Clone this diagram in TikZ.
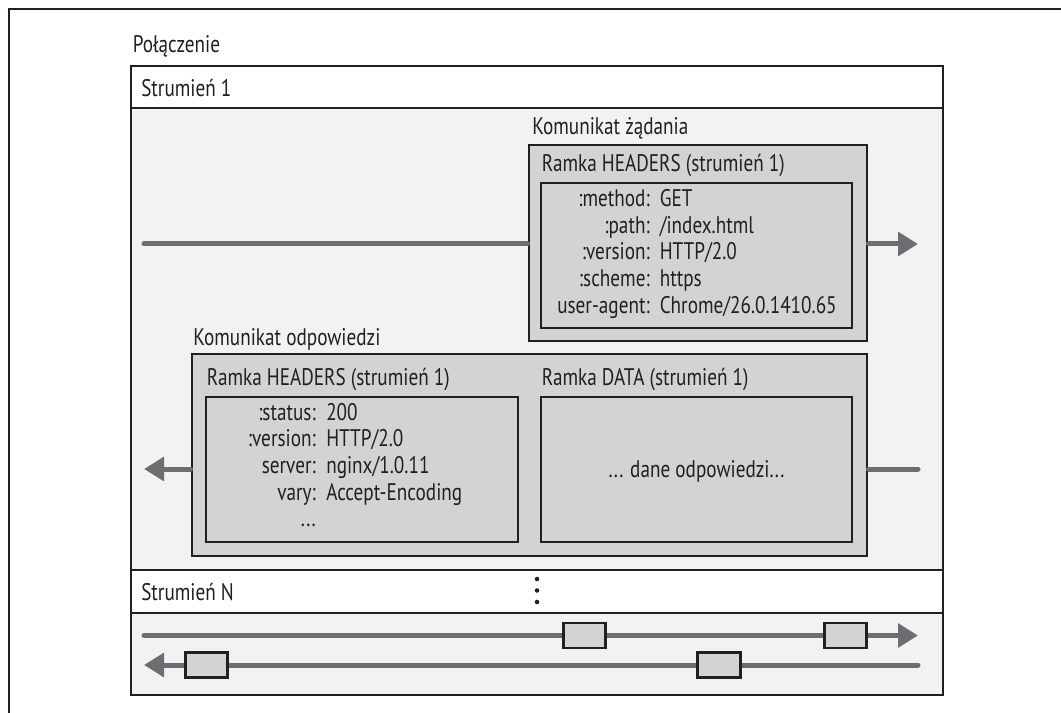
\documentclass[tikz,border=0pt]{standalone}
\usepackage{fontspec}
\setmainfont{PT Sans}[FakeStretch=0.8]
\usetikzlibrary{arrows.meta,fit,positioning}
\definecolor{framefill}{HTML}{D1D3D4}
\definecolor{lanefill}{HTML}{F1F2F2}
\definecolor{flowgray}{HTML}{6D6E71}
\definecolor{inkblack}{HTML}{231F20}

\begin{document}
\begin{tikzpicture}[
  x=0.75pt, y=-0.75pt,
  txt/.style={font=\fontsize{18}{20}\selectfont, text=inkblack, inner sep=0pt},
  lbl/.style={txt, anchor=base west},
  band/.style={draw=inkblack, line width=1.5pt, fill=white, inner sep=0pt},
  lane/.style={draw=inkblack, line width=1.5pt, fill=lanefill, inner sep=0pt},
  framebox/.style={draw=inkblack, line width=2.2pt, fill=framefill, inner sep=0pt},
  packet/.style={draw=inkblack, line width=2.2pt, fill=framefill, minimum width=32pt, minimum height=18.75pt, inner sep=0pt},
  flow/.style={draw=flowgray, line width=3.75pt, line cap=round},
  tip/.style={-{Triangle[length=15pt,width=17.5pt]}},
  pit/.style={{Triangle[length=15pt,width=17.5pt]}-}
]
\useasboundingbox (0,0) rectangle (1061,713);

% Connection frame
\draw[inkblack, line width=1.5pt] (1061,9) -- (8.5,9) -- (8.5,713);
\node[lbl] (conn) at (132.5,53) {Połączenie};

% Stream 1
\node[band, fit={(131,66) (943,108)}] (s1head) {};
\node[lane, fit={(131,108) (943,569.5)}] (s1body) {};
\node[lbl] (s1name) at (141,97) {Strumień 1};

% Stream N
\node[band, fit={(131,569.5) (943,612.5)}] (sNhead) {};
\node[lane, fit={(131,612.5) (943,695)}] (sNbody) {};
\node[lbl] (sNname) at (141,600) {Strumień N};
\foreach \yy in {579,590.5,602}
  \fill[inkblack] (537,\yy) circle[radius=1.7pt];

% Request message
\coordinate (reqin) at (144,244);
\coordinate (reqout) at (918,244);
\node[framebox, fit={(529,145) (867,341)}] (reqframe) {};
\node[framebox, fit={(541,183) (852,328)}] (reqhdr) {};
\node[lbl] (reqmsg) at (532,135) {Komunikat żądania};
\node[lbl] (reqtitle) at (541.5,172) {Ramka HEADERS (strumień 1)};
\node[txt, anchor=base east] (reqkeys) at (650,206.5)
  {\begin{tabular}[t]{@{}r@{}}:method:\\:path:\\:version:\\:scheme:\\user-agent:\end{tabular}};
\node[txt, anchor=base west] (reqvals) at (659.5,206.5)
  {\begin{tabular}[t]{@{}l@{}}GET\\/index.html\\HTTP/2.0\\https\\Chrome/26.0.1410.65\end{tabular}};
\draw[flow] (reqin) -- (reqframe.west |- reqin);
\draw[flow, tip] (reqframe.east |- reqout) -- (reqout);

% Response message
\coordinate (respin) at (918,469);
\coordinate (respout) at (144,469);
\node[framebox, fit={(192,354) (867,556)}] (respframe) {};
\node[framebox, fit={(206,397) (518,542)}] (resphdr) {};
\node[framebox, fit={(541,397) (852,542)}] (respdata) {};
\node[lbl] (respmsg) at (193,345) {Komunikat odpowiedzi};
\node[lbl] (hdrtitle) at (206.5,385) {Ramka HEADERS (strumień 1)};
\node[lbl] (datatitle) at (541.5,385) {Ramka DATA (strumień 1)};
\node[txt, anchor=base east] (respkeys) at (316,420)
  {\begin{tabular}[t]{@{}r@{}}:status:\\:version:\\server:\\vary:\\...\end{tabular}};
\node[txt, anchor=base west] (respvals) at (326,420)
  {\begin{tabular}[t]{@{}l@{}}200\\HTTP/2.0\\nginx/1.0.11\\Accept-Encoding\end{tabular}};
\node[txt, anchor=base] (payload) at (696.5,477) {... dane odpowiedzi...};
\draw[flow] (respin) -- (respframe.east |- respin);
\draw[flow, tip] (respframe.west |- respout) -- (respout);

% Interleaved frames of stream N
\coordinate (upin) at (144,635.5);
\coordinate (upout) at (918,635.5);
\coordinate (downin) at (918,665);
\coordinate (downout) at (144,665);
\draw[flow, tip] (upin) -- (upout);
\draw[flow, tip] (downin) -- (downout);
\node[packet] (upA) at (584.5,635.5) {};
\node[packet] (upB) at (845.5,635.5) {};
\node[packet] (downA) at (206.5,665) {};
\node[packet] (downB) at (719,665) {};

\end{tikzpicture}
\end{document}
